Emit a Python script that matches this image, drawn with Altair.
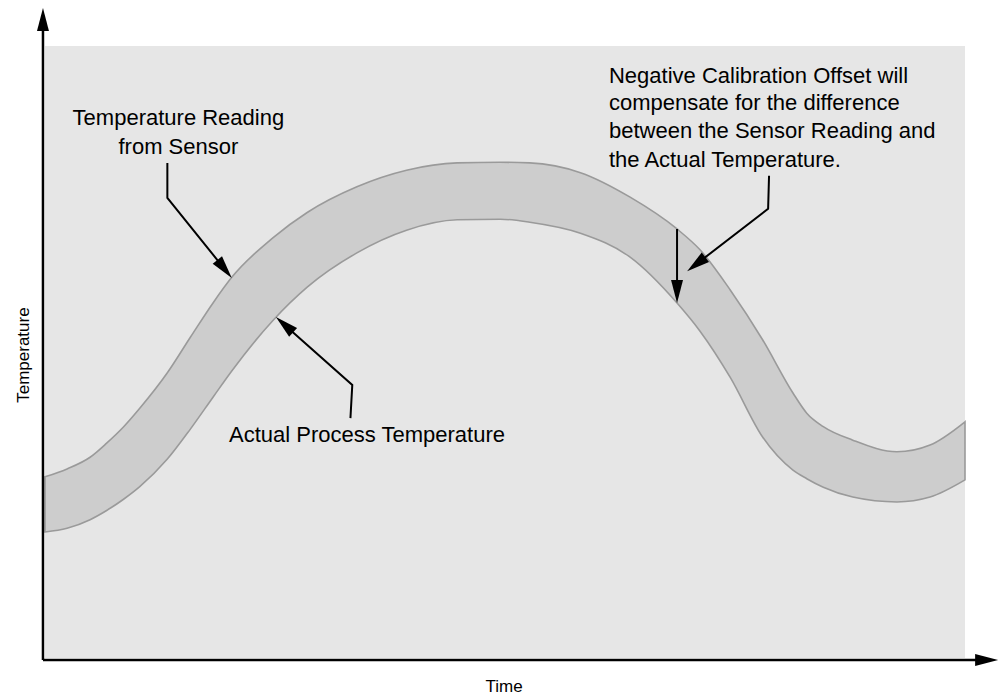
import math
import altair as alt
import pandas as pd

# ---------------- data (percent of the plotting window) ----------------
time = [0, 2.4, 4.9, 6.7, 8.5, 10.3, 13.3, 15.8, 18.3, 20.3, 24.8, 28.5, 33.9, 39.3, 44.8,
        49.5, 52.7, 58.2, 63.6, 68.7, 71.2, 74.5, 78.0, 81.3, 82.8, 84.6, 87.8, 92.6, 96.2, 100]
sensor_reading = [29.6, 30.9, 32.8, 35.1, 37.7, 40.8, 46.6, 52.4, 58.1, 62.2, 68.7, 72.8, 77.0, 79.7, 80.9,
                  81.0, 80.9, 79.3, 75.3, 70.1, 66.7, 60.1, 52.0, 43.3, 40.0, 37.8, 35.6, 33.7, 34.8, 38.6]
actual_temperature = [20.6, 21.2, 22.6, 24.1, 25.9, 28.0, 32.5, 37.4, 42.7, 46.9, 55.2, 60.6, 66.2, 69.9, 71.6,
                      71.7, 71.2, 69.4, 65.5, 58.0, 53.4, 45.8, 36.1, 30.7, 29.3, 27.9, 26.3, 25.5, 26.3, 29.1]

center_labels = ["Temperature Reading", "from Sensor"]
center_label_t = [14.5, 14.5]
center_label_T = [87.1, 82.4]

left_labels = ["Actual Process Temperature", "Negative Calibration Offset will",
               "compensate for the difference", "between the Sensor Reading and",
               "the Actual Temperature."]
left_label_t = [20.0, 61.3, 61.3, 61.3, 61.3]
left_label_T = [35.3, 94.0, 89.5, 85.0, 80.2]

# annotation arrows: list of (time, temperature) vertices, last one is the tip
arrow_sensor = [(13.3, 80.9), (13.3, 75.2), (20.3, 62.1)]
arrow_actual = [(33.2, 39.2), (33.4, 44.6), (25.1, 55.7)]
arrow_offset = [(78.7, 78.8), (78.6, 73.4), (69.8, 63.2)]
arrow_diff = [(time[19], sensor_reading[19]), (time[19], actual_temperature[19])]
axis_y_arrow = [(-0.22, -0.33), (-0.22, 106.2)]
axis_x_arrow = [(-0.22, -0.33), (103.6, -0.33)]

x_title = "Time"
y_title = "Temperature"

# ---------------- layout ----------------
W, H = 992, 688
PX_T, PX_Y = 9.2, 6.12      # pixels per unit
LEFT, BASE = 45, 658        # page position of time 0 / temperature 0
xdom = [(8 - LEFT) / PX_T, (8 + W - LEFT) / PX_T]
ydom = [(BASE - (8 + H)) / PX_Y, (BASE - 8) / PX_Y]
xs = alt.Scale(domain=xdom, nice=False, zero=False)
ys = alt.Scale(domain=ydom, nice=False, zero=False)

FONT = "Liberation Sans Narrow, Arial Narrow, Liberation Sans, Arial, sans-serif"
ARROW = "M0,0L-0.26,1L0.26,1Z"
HEAD = 23.0

band = pd.DataFrame({"t": time, "T": sensor_reading, "T2": actual_temperature})

lines, heads = [], []
for k, pts in enumerate([arrow_sensor, arrow_actual, arrow_offset, arrow_diff, axis_y_arrow, axis_x_arrow]):
    (pt, pT), (tt, tT) = pts[-2], pts[-1]
    dx = (tt - pt) * PX_T
    dy = (tT - pT) * PX_Y
    L = math.hypot(dx, dy)
    s = 14.0
    end = (tt - dx / L * s / PX_T, tT - dy / L * s / PX_Y)
    path = list(pts[:-1]) + [end]
    for i, (a, b) in enumerate(path):
        lines.append({"id": k, "o": i, "t": a, "T": b, "w": 2.5 if k >= 4 else 2.0})
    ang = math.degrees(math.atan2(dx, dy)) % 360
    heads.append({"t": tt, "T": tT, "angle": ang})
lines = pd.DataFrame(lines)
heads = pd.DataFrame(heads)

bg = alt.Chart(pd.DataFrame({"t": [0], "t2": [100], "T": [0], "T2": [100]})).mark_rect(
    color="#e6e6e6").encode(
    x=alt.X("t:Q", scale=xs, axis=None), x2="t2:Q",
    y=alt.Y("T:Q", scale=ys, axis=None), y2="T2:Q")

area = alt.Chart(band).mark_area(
    interpolate="monotone", fill="#cdcdcd", stroke="#9a9a9a", strokeWidth=1.6).encode(
    x=alt.X("t:Q", scale=xs, axis=None),
    y=alt.Y("T:Q", scale=ys, axis=None), y2="T2:Q")

arrows = alt.Chart(lines).mark_line(color="black").encode(
    x=alt.X("t:Q", scale=xs, axis=None),
    y=alt.Y("T:Q", scale=ys, axis=None),
    detail="id:N", order="o:Q",
    strokeWidth=alt.StrokeWidth("w:Q", scale=None))

tips = alt.Chart(heads).mark_point(
    shape=ARROW, filled=True, color="black", opacity=1, size=(2 * HEAD) ** 2).encode(
    x=alt.X("t:Q", scale=xs, axis=None),
    y=alt.Y("T:Q", scale=ys, axis=None),
    angle=alt.Angle("angle:Q", scale=None))

txt_c = alt.Chart(pd.DataFrame({"t": center_label_t, "T": center_label_T, "s": center_labels})).mark_text(
    align="center", baseline="alphabetic", font=FONT, fontSize=22, color="black").encode(
    x=alt.X("t:Q", scale=xs, axis=None), y=alt.Y("T:Q", scale=ys, axis=None), text="s:N")

txt_l = alt.Chart(pd.DataFrame({"t": left_label_t, "T": left_label_T, "s": left_labels})).mark_text(
    align="left", baseline="alphabetic", font=FONT, fontSize=22, color="black").encode(
    x=alt.X("t:Q", scale=xs, axis=None), y=alt.Y("T:Q", scale=ys, axis=None), text="s:N")

xt = alt.Chart(pd.DataFrame({"t": [49.9], "T": [-5.56], "s": [x_title]})).mark_text(
    align="center", baseline="alphabetic", font="Liberation Sans", fontSize=17, color="black").encode(
    x=alt.X("t:Q", scale=xs, axis=None), y=alt.Y("T:Q", scale=ys, axis=None), text="s:N")

yt = alt.Chart(pd.DataFrame({"t": [-1.74], "T": [49.5], "s": [y_title]})).mark_text(
    align="center", baseline="alphabetic", angle=270, font="Liberation Sans", fontSize=17,
    color="black").encode(
    x=alt.X("t:Q", scale=xs, axis=None), y=alt.Y("T:Q", scale=ys, axis=None), text="s:N")

chart = alt.layer(bg, area, arrows, tips, txt_c, txt_l, xt, yt).properties(
    width=W, height=H, autosize=alt.AutoSizeParams(type="none"), padding=0,
    background="white").configure_view(stroke=None)

chart.save("out.html", embed_options={"renderer": "svg", "actions": False})
